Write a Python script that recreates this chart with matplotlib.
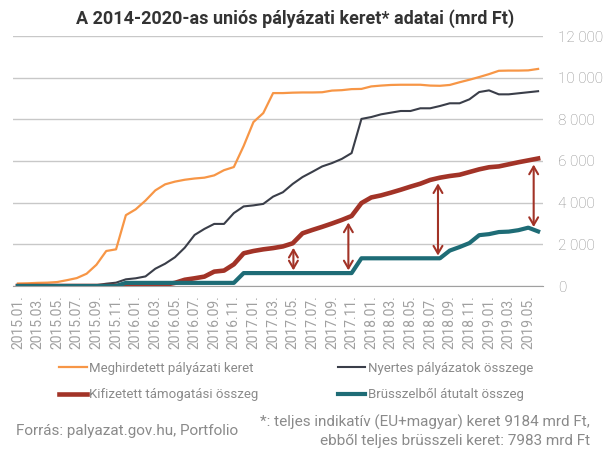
import numpy as np
import matplotlib.pyplot as plt

plt.rcParams['font.family'] = ['Roboto', 'DejaVu Sans']

months = [f"{y}.{m:02d}." for y in range(2015, 2020) for m in range(1, 13)][:54]

meghirdetett = [120, 130, 150, 160, 190, 280, 380, 590, 1020, 1680,
                1760, 3400, 3680, 4100, 4590, 4880, 5010, 5100, 5160, 5200,
                5310, 5560, 5710, 6720, 7870, 8300, 9260, 9260, 9280, 9290,
                9290, 9300, 9380, 9400, 9450, 9460, 9580, 9620, 9650, 9660,
                9660, 9660, 9620, 9610, 9650, 9780, 9900, 10030, 10170, 10330,
                10340, 10340, 10350, 10420]
nyertes = [0, 0, 0, 0, 0, 0, 0, 20, 40, 110,
           160, 320, 370, 460, 830, 1070, 1380, 1840, 2450, 2740,
           2980, 2980, 3500, 3820, 3870, 3940, 4290, 4500, 4900, 5230,
           5480, 5740, 5900, 6100, 6380, 8020, 8110, 8240, 8320, 8400,
           8400, 8530, 8530, 8640, 8770, 8770, 8960, 9310, 9390, 9200,
           9200, 9250, 9300, 9350]
kifizetett = [0, 0, 0, 0, 0, 0, 0, 0, 0, 0,
              0, 10, 20, 30, 40, 60, 150, 300, 370, 450,
              690, 740, 1040, 1570, 1680, 1760, 1820, 1900, 2050, 2530,
              2690, 2840, 3000, 3170, 3360, 3980, 4250, 4350, 4480, 4620,
              4770, 4910, 5090, 5200, 5280, 5340, 5470, 5600, 5700, 5740,
              5840, 5940, 6030, 6120]
brusszel = [0, 0, 0, 0, 0, 0, 0, 0, 0, 0,
            0, 150, 150, 150, 150, 150, 150, 150, 150, 150,
            150, 150, 150, 620, 620, 620, 620, 620, 620, 620,
            620, 620, 620, 620, 620, 1330, 1330, 1330, 1330, 1330,
            1330, 1330, 1330, 1330, 1700, 1870, 2060, 2440, 2490, 2590,
            2610, 2680, 2800, 2620]

# ahol a nyilak allnak (honap index)
arrow_pos = [28.07, 33.67, 42.8, 52.55]

c_orange = '#F79646'
c_gray = '#3A3E49'
c_red = '#A23327'
c_teal = '#1E6C76'
c_text = '#8a8a8a'

fig = plt.figure(figsize=(6.05, 4.57), dpi=100)
ax = fig.add_axes([13 / 605, 1 - 286 / 457, 530 / 605, 250 / 457])

x = np.arange(len(months))
l1, = ax.plot(x, meghirdetett, color=c_orange, lw=1.6, label='Meghirdetett pályázati keret')
l2, = ax.plot(x, nyertes, color=c_gray, lw=1.5, label='Nyertes pályázatok összege')
l3, = ax.plot(x, kifizetett, color=c_red, lw=3.3, label='Kifizetett támogatási összeg')
l4, = ax.plot(x, brusszel, color=c_teal, lw=3.0, label='Brüsszelből átutalt összeg')

for xi in arrow_pos:
    top = np.interp(xi, x, kifizetett) - 250
    bottom = np.interp(xi, x, brusszel) + 130
    ax.annotate('', xy=(xi, top), xytext=(xi, bottom),
                arrowprops=dict(arrowstyle='<->,head_length=0.55,head_width=0.32',
                                color=c_red, lw=1.5, shrinkA=0, shrinkB=0))

ax.set_xlim(-0.5, len(months) - 0.5)
ax.set_ylim(0, 12000)
yt = list(range(0, 12001, 2000))
ax.set_yticks(yt)
ax.yaxis.tick_right()
ax.set_yticklabels([f"{v:,}".replace(',', ' ') for v in yt], color=c_text,
                   fontsize=11, fontweight='light')
ax.tick_params(axis='y', length=0, pad=11)
ax.set_xticks(x[::2])
ax.set_xticklabels(months[::2], rotation=90, fontsize=10, color='#a0a0a0')
ax.tick_params(axis='x', length=0, pad=7)
ax.grid(axis='y', color='#c8c8c8', lw=1)
ax.set_axisbelow(True)
for s in ['top', 'left', 'right']:
    ax.spines[s].set_visible(False)
ax.spines['bottom'].set_color('#a0a0a0')

fig.text(295 / 605, 1 - 18.5 / 457, 'A 2014-2020-as uniós pályázati keret* adatai (mrd Ft)',
         ha='center', va='center', fontsize=13, fontweight='bold', color='#333333')

fig.legend(handles=[l1, l3, l2, l4], ncol=2, loc='upper left',
           bbox_to_anchor=(59 / 605, 1 - 362 / 457), frameon=False,
           fontsize=9.5, handlelength=2.1, handletextpad=0.2, columnspacing=6,
           labelspacing=1.0, borderpad=0, borderaxespad=0, labelcolor=c_text)

fig.text(16 / 605, 1 - 431 / 457, 'Forrás: palyazat.gov.hu, Portfolio',
         fontsize=11, color=c_text, va='center')
fig.text(590 / 605, 1 - 422 / 457, '*: teljes indikatív (EU+magyar) keret 9184 mrd Ft,',
         fontsize=11, color=c_text, va='center', ha='right')
fig.text(590 / 605, 1 - 441 / 457, 'ebből teljes brüsszeli keret: 7983 mrd Ft',
         fontsize=11, color=c_text, va='center', ha='right')

fig.savefig('out.png', dpi=100)
